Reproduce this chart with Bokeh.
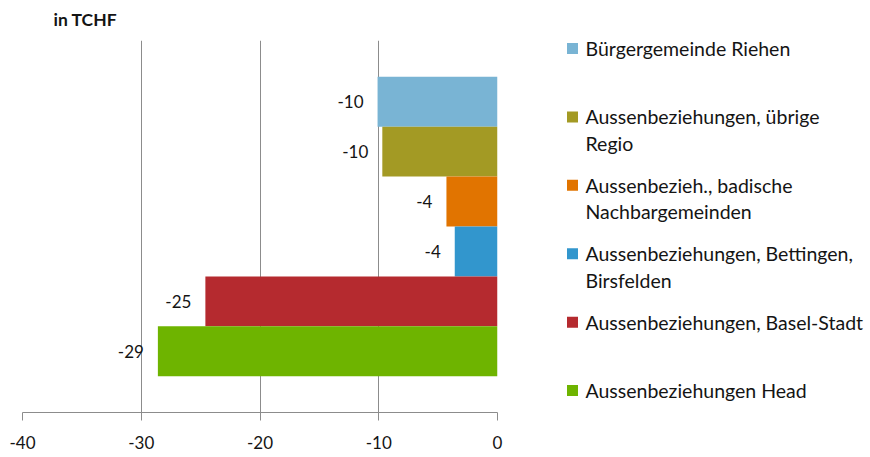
from bokeh.plotting import figure
from bokeh.models import FactorRange, Range1d, FixedTicker, ColumnDataSource, PrintfTickFormatter
from bokeh.layouts import row
from bokeh.embed import file_html
from bokeh.resources import INLINE
from bokeh.core.properties import value

# ---- data ----
categories = [
    "Bürgergemeinde Riehen",
    "Aussenbeziehungen, übrige Regio",
    "Aussenbezieh., badische Nachbargemeinden",
    "Aussenbeziehungen, Bettingen, Birsfelden",
    "Aussenbeziehungen, Basel-Stadt",
    "Aussenbeziehungen Head",
]
legend_lines = [
    ["Bürgergemeinde Riehen"],
    ["Aussenbeziehungen, übrige", "Regio"],
    ["Aussenbezieh., badische", "Nachbargemeinden"],
    ["Aussenbeziehungen, Bettingen,", "Birsfelden"],
    ["Aussenbeziehungen, Basel-Stadt"],
    ["Aussenbeziehungen Head"],
]
values = [-10.1, -9.7, -4.3, -3.6, -24.6, -28.6]
colors = ["#79B4D4", "#A39A24", "#E17400", "#3296CD", "#B52A2F", "#6EB400"]
x_ticks = [-40, -30, -20, -10, 0]
unit_title = "in TCHF"

# ---- style ----
FONT = "Lato"
TXT = "#141414"
GRID = "#8c8c8c"
H = 451
W1 = 530
W2 = 340
FRAME_H = 373  # plot frame height (frames of the row are aligned)

src = ColumnDataSource(dict(
    cat=categories,
    val=values,
    color=colors,
    label=[f"{round(v):d}" for v in values],
))

p = figure(
    width=W1, height=H, output_backend="svg", toolbar_location=None,
    x_range=Range1d(x_ticks[0], x_ticks[-1]),
    y_range=FactorRange(factors=categories[::-1], range_padding=0.243),
    y_axis_location=None,
    min_border_left=22, min_border_right=W1 - 497, min_border_top=40, min_border_bottom=0,
    title=unit_title,
)
p.outline_line_color = None
p.title.text_font = FONT
p.title.text_font_size = "17.5px"
p.title.text_font_style = "bold"
p.title.text_color = TXT
p.title.align = "left"
p.title.vertical_align = "top"
p.title.offset = 31
p.title.standoff = 17

p.hbar(y="cat", left="val", right=0, height=1.0, color="color",
       line_color=None, source=src)
p.text(x="val", y="cat", text="label", x_offset=-14, text_align="right",
       text_baseline="middle", text_font=value(FONT), text_font_size="17px",
       text_color=TXT, source=src)

p.xaxis.ticker = FixedTicker(ticks=x_ticks)
p.xaxis.formatter = PrintfTickFormatter(format="%d")
p.xaxis.axis_line_color = GRID
p.xaxis.major_tick_line_color = GRID
p.xaxis.major_tick_out = 8
p.xaxis.major_tick_in = 0
p.xaxis.minor_tick_line_color = None
p.xaxis.major_label_text_font = FONT
p.xaxis.major_label_text_font_size = "17px"
p.xaxis.major_label_text_color = TXT
p.xaxis.major_label_standoff = 15
p.xgrid.ticker = FixedTicker(ticks=x_ticks)
p.xgrid.grid_line_color = GRID
p.ygrid.grid_line_color = None

# ---- legend panel ----
LEG_FIRST = 8.0   # first entry below frame top (px)
LEG_STEP = 68.6
LINE_STEP = 26.5
SQ_X = 572 - W1
TX_X = 585 - W1

leg = figure(
    width=W2, height=H, output_backend="svg", toolbar_location=None,
    x_range=Range1d(0, W2),
    y_range=Range1d((FRAME_H - LEG_FIRST) / LEG_STEP, -LEG_FIRST / LEG_STEP),
    x_axis_location=None, y_axis_location=None, min_border=0,
)
leg.outline_line_color = None
leg.grid.visible = False

idx = list(range(len(categories)))
leg.scatter(x=[SQ_X] * len(idx), y=idx, marker="square", size=11,
            color=colors, line_color=None)

lx, ly, loff, lt = [], [], [], []
for i, lines in enumerate(legend_lines):
    for j, t in enumerate(lines):
        lx.append(TX_X)
        ly.append(i)
        loff.append(j * LINE_STEP)
        lt.append(t)
leg.text(x=lx, y=ly, y_offset=loff, text=lt, text_align="left",
         text_baseline="middle", text_font=value(FONT), text_font_size="19.5px",
         text_color=TXT)

layout = row(p, leg)
open("out.html", "w").write(file_html(layout, INLINE))
